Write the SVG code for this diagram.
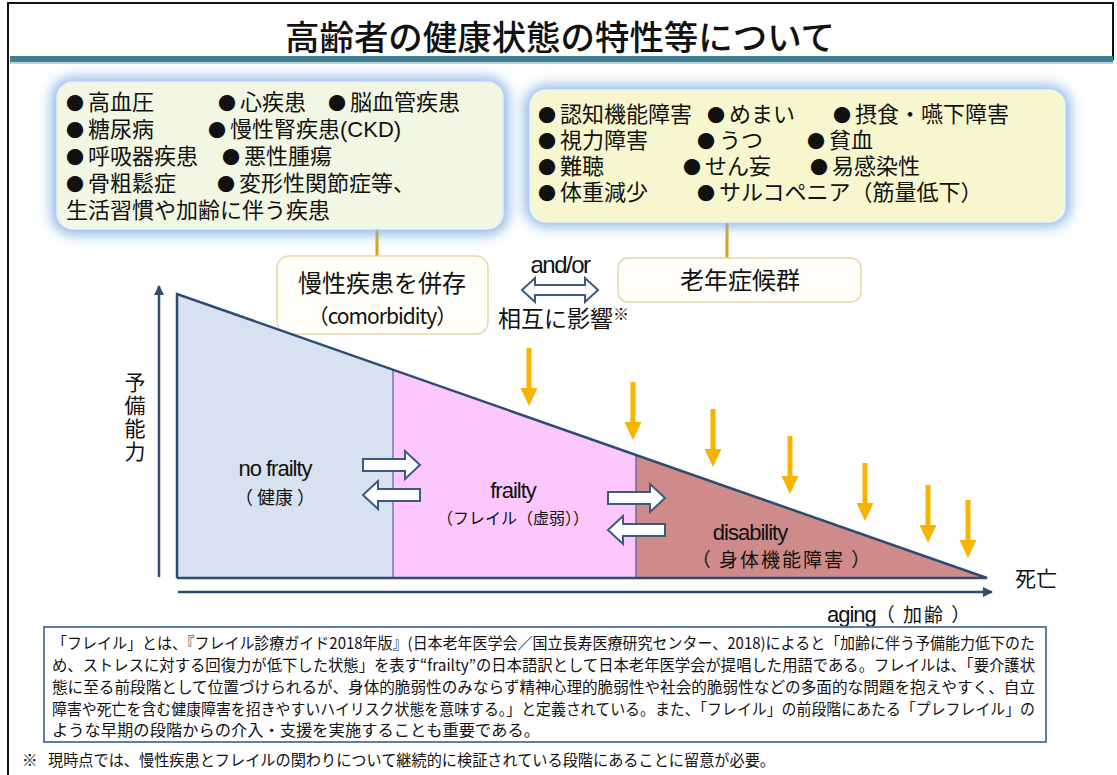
<svg xmlns="http://www.w3.org/2000/svg" xmlns:xlink="http://www.w3.org/1999/xlink" width="1117" height="775" viewBox="0 0 1117 775">
<style>
.jp{font-family:"Noto Sans CJK JP","Noto Sans",sans-serif;fill:#111}
.lat{font-family:"Liberation Sans","Noto Sans CJK JP",sans-serif;fill:#111}
.mix{font-family:"Liberation Sans","Noto Sans CJK JP",sans-serif;fill:#111;font-size:22px}
.b{font-family:"Noto Sans CJK JP",sans-serif;font-size:18px;letter-spacing:4px}
.navy{stroke:#2d4b73;stroke-width:2.5;fill:none}
.hollow{fill:#fff;stroke:#3b5a80;stroke-width:2}
.gold{fill:#f6b400}
.conn{stroke:#d6a21e;stroke-width:3}
.note{font-size:15.5px}
</style>
<defs>
<filter id="glow" x="-15%" y="-25%" width="130%" height="150%"><feGaussianBlur stdDeviation="7"/></filter>
<marker id="ah" viewBox="0 0 10 10" refX="9" refY="5" markerWidth="4" markerHeight="4" orient="auto"><path d="M0,0 L10,5 L0,10 Z" fill="#2d4b73"/></marker>
<path id="garrow" d="M-2.5,0 H2.5 V40 H8.5 L0,58 L-8.5,40 H-2.5 Z"/>
</defs>
<rect width="1117" height="775" fill="#fff"/>
<!-- frame -->
<path d="M8,775 V3 H1113 V60" fill="none" stroke="#111" stroke-width="2"/>
<!-- title -->
<g id="title">
<text class="jp" x="560" y="50" text-anchor="middle" font-size="34" font-weight="500" textLength="550" lengthAdjust="spacingAndGlyphs">高齢者の健康状態の特性等について</text>
<rect x="10" y="56" width="1103" height="6" fill="#3f7f8f"/>
<rect x="10" y="62" width="1103" height="2" fill="#b9d4dc"/>
</g>
<!-- connectors -->
<g id="connectors">
<line class="conn" x1="377" y1="228" x2="377" y2="256"/>
<line class="conn" x1="727" y1="220" x2="727" y2="258"/>
</g>
<!-- left box -->
<g id="chronic-diseases">
<rect x="52" y="78" width="456" height="156" rx="20" fill="#86b3e8" filter="url(#glow)"/>
<rect x="57" y="82" width="446" height="147" rx="16" fill="#f2f7e4" stroke="#e8f0f8" stroke-width="1.5"/>
<text class="mix" x="66" y="110"><tspan class="b">●</tspan>高血圧</text>
<text class="mix" x="218" y="110"><tspan class="b">●</tspan>心疾患</text>
<text class="mix" x="328" y="110"><tspan class="b">●</tspan>脳血管疾患</text>
<text class="mix" x="66" y="137"><tspan class="b">●</tspan>糖尿病</text>
<text class="mix" x="208" y="137"><tspan class="b">●</tspan>慢性腎疾患(CKD)</text>
<text class="mix" x="66" y="164"><tspan class="b">●</tspan>呼吸器疾患</text>
<text class="mix" x="222" y="164"><tspan class="b">●</tspan>悪性腫瘍</text>
<text class="mix" x="66" y="191"><tspan class="b">●</tspan>骨粗鬆症</text>
<text class="mix" x="217" y="191"><tspan class="b">●</tspan>変形性関節症等、</text>
<text class="mix" x="66" y="218">生活習慣や加齢に伴う疾患</text>
</g>
<!-- right box -->
<g id="geriatric-syndrome-items">
<rect x="525" y="86" width="545" height="140" rx="20" fill="#86b3e8" filter="url(#glow)"/>
<rect x="530" y="90" width="535" height="132" rx="16" fill="#f6f7cf" stroke="#eef2f8" stroke-width="1.5"/>
<text class="mix" x="538" y="122"><tspan class="b">●</tspan>認知機能障害</text>
<text class="mix" x="707" y="122"><tspan class="b">●</tspan>めまい</text>
<text class="mix" x="833" y="122"><tspan class="b">●</tspan>摂食・嚥下障害</text>
<text class="mix" x="538" y="148"><tspan class="b">●</tspan>視力障害</text>
<text class="mix" x="697" y="148"><tspan class="b">●</tspan>うつ</text>
<text class="mix" x="807" y="148"><tspan class="b">●</tspan>貧血</text>
<text class="mix" x="538" y="174"><tspan class="b">●</tspan>難聴</text>
<text class="mix" x="683" y="174"><tspan class="b">●</tspan>せん妄</text>
<text class="mix" x="810" y="174"><tspan class="b">●</tspan>易感染性</text>
<text class="mix" x="538" y="200"><tspan class="b">●</tspan>体重減少</text>
<text class="mix" x="697" y="200"><tspan class="b">●</tspan>サルコペニア（筋量低下）</text>
</g>
<!-- comorbidity box -->
<g id="comorbidity">
<rect x="277" y="256" width="211" height="78" rx="12" fill="#fffef8" stroke="#e6d7a8" stroke-width="1.5"/>
<text class="jp" x="382" y="292" text-anchor="middle" font-size="24">慢性疾患を併存</text>
<text class="jp" x="382" y="324" text-anchor="middle" font-size="21" letter-spacing="-1">（comorbidity）</text>
</g>
<!-- geriatric syndrome box -->
<g id="geriatric-syndrome">
<rect x="618" y="258" width="243" height="44" rx="10" fill="#fffef8" stroke="#e6d7a8" stroke-width="1.5"/>
<text class="jp" x="740" y="289" text-anchor="middle" font-size="24">老年症候群</text>
</g>
<!-- interaction -->
<g id="interaction">
<text class="lat" x="560" y="273" text-anchor="middle" font-size="24" letter-spacing="-1.5">and/or</text>
<path class="hollow" d="M522,290 L535,278 V285 H585 V278 L598,290 L585,302 V295 H535 V302 Z"/>
<text class="jp" x="498" y="327" font-size="23">相互に影響<tspan font-size="16" dy="-7">※</tspan></text>
</g>
<!-- chart regions -->
<g id="no-frailty">
<polygon points="177,294 393,369.7 393,578 177,578" fill="#d7e1ef"/>
<text class="lat" x="275" y="476" text-anchor="middle" font-size="22" letter-spacing="-1">no frailty</text>
<text class="jp" x="275" y="504" text-anchor="middle" font-size="18">（ 健康 ）</text>
</g>
<g id="frailty">
<polygon points="393,369.7 636,455 636,578 393,578" fill="#fcc7fc"/>
<text class="lat" x="513" y="498" text-anchor="middle" font-size="22" letter-spacing="-1">frailty</text>
<text class="jp" x="513" y="524" text-anchor="middle" font-size="16">（フレイル（虚弱））</text>
</g>
<g id="disability">
<polygon points="636,455 987,578 636,578" fill="#cf8a8a"/>
<text class="lat" x="750" y="540" text-anchor="middle" font-size="22" letter-spacing="-1">disability</text>
<text class="jp" x="782" y="567" text-anchor="middle" font-size="19" letter-spacing="2">（ 身体機能障害 ）</text>
</g>
<g id="chart-lines">
<line x1="393" y1="369.7" x2="393" y2="578" stroke="#7a7aa8" stroke-width="1.5"/>
<line x1="636" y1="455" x2="636" y2="578" stroke="#6a6a98" stroke-width="1.5"/>
<polyline class="navy" points="177,578 177,294 987,578 177,578"/>
<line class="navy" x1="159" y1="577" x2="159" y2="286" marker-end="url(#ah)"/>
<line class="navy" x1="178" y1="592" x2="992" y2="592" marker-end="url(#ah)"/>
</g>
<g id="axis-labels">
<text class="jp" x="135" y="372" font-size="21" letter-spacing="2" style="writing-mode:vertical-rl">予備能力</text>
<text class="jp" x="1015" y="586" font-size="21">死亡</text>
<text class="lat" x="827" y="622" font-size="22" letter-spacing="-1">aging<tspan class="jp" font-size="19" letter-spacing="2">（ 加齢 ）</tspan></text>
</g>
<!-- transition arrows -->
<g id="transitions">
<path class="hollow" d="M363,459 H405 V451 L420,465 L405,479 V471 H363 Z"/>
<path class="hollow" d="M420,489 H378 V481 L363,495 L378,509 V501 H420 Z"/>
<path class="hollow" d="M608,492 H650 V484 L665,498 L650,512 V504 H608 Z"/>
<path class="hollow" d="M665,524 H623 V516 L608,530 L623,544 V536 H665 Z"/>
</g>
<!-- gold arrows -->
<g id="impacts" class="gold">
<use xlink:href="#garrow" x="529" y="348"/>
<use xlink:href="#garrow" x="633" y="382"/>
<use xlink:href="#garrow" x="713" y="409"/>
<use xlink:href="#garrow" x="790" y="436"/>
<use xlink:href="#garrow" x="865" y="463"/>
<use xlink:href="#garrow" x="928" y="485"/>
<use xlink:href="#garrow" x="968" y="500"/>
</g>
<!-- definition note -->
<g id="definition">
<rect x="44" y="627" width="1002" height="115" fill="#fff" stroke="#5d7ea6" stroke-width="2"/>
<g class="jp note">
<text x="52" y="649" textLength="983" lengthAdjust="spacingAndGlyphs">「フレイル」とは、『フレイル診療ガイド2018年版』(日本老年医学会／国立長寿医療研究センター、2018)によると「加齢に伴う予備能力低下のた</text>
<text x="52" y="671" textLength="983" lengthAdjust="spacingAndGlyphs">め、ストレスに対する回復力が低下した状態」を表す“frailty”の日本語訳として日本老年医学会が提唱した用語である。フレイルは、「要介護状</text>
<text x="52" y="693" textLength="983" lengthAdjust="spacingAndGlyphs">態に至る前段階として位置づけられるが、身体的脆弱性のみならず精神心理的脆弱性や社会的脆弱性などの多面的な問題を抱えやすく、自立</text>
<text x="52" y="715" textLength="983" lengthAdjust="spacingAndGlyphs">障害や死亡を含む健康障害を招きやすいハイリスク状態を意味する。」と定義されている。また、「フレイル」の前段階にあたる「プレフレイル」の</text>
<text x="52" y="736" textLength="488" lengthAdjust="spacingAndGlyphs">ような早期の段階からの介入・支援を実施することも重要である。</text>
</g>
</g>
<g id="footnote">
<text class="jp" x="22" y="766" font-size="15.5">※</text>
<text class="jp" x="48" y="766" font-size="15.5" textLength="727" lengthAdjust="spacingAndGlyphs">現時点では、慢性疾患とフレイルの関わりについて継続的に検証されている段階にあることに留意が必要。</text>
</g>
</svg>
